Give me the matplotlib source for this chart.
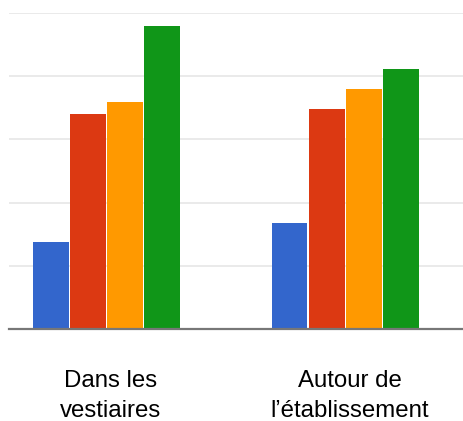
import numpy as np
import matplotlib
matplotlib.use("Agg")
import matplotlib.pyplot as plt
import matplotlib.transforms as mtransforms

plt.rcParams['font.family'] = ['Liberation Sans', 'DejaVu Sans']

# data
categories = ["Dans les\nvestiaires", "Autour de\nl\u2019établissement"]
serie_bleue = [1.37, 1.68]
serie_rouge = [3.40, 3.48]
serie_orange = [3.59, 3.79]
serie_verte = [4.79, 4.11]

series = [serie_bleue, serie_rouge, serie_orange, serie_verte]
couleurs = ["#3366CC", "#DC3912", "#FF9900", "#109618"]

fig = plt.figure(figsize=(4.64, 4.21), dpi=100)
ax = fig.add_axes([9/464, 1 - 329/421, 1 - 9/464, (329 - 13)/421])

x = np.arange(len(categories))
step = 0.156
width = 0.150
for i, (vals, c) in enumerate(zip(series, couleurs)):
    ax.bar(x + (i - 1.5) * step, vals, width, color=c, zorder=3)

ax.set_ylim(0, 5)
ax.set_xlim(-0.408, 1.496)
ax.set_yticks([1, 2, 3, 4, 5])
ax.yaxis.grid(True, color="#e6e6e6", linewidth=1.2, zorder=0)
ax.tick_params(axis="y", left=False, labelleft=False)
ax.tick_params(axis="x", bottom=False, pad=26, labelsize=17.3)
ax.set_xticks(x)
ax.set_xticklabels(categories, linespacing=1.5)
# labels sit a bit right of the group centres in the original
decal = mtransforms.ScaledTranslation(4.5/100, 0, fig.dpi_scale_trans)
for lab in ax.get_xticklabels():
    lab.set_transform(lab.get_transform() + decal)
for s in ["top", "right", "left"]:
    ax.spines[s].set_visible(False)
ax.spines["bottom"].set_color("#777777")
ax.spines["bottom"].set_linewidth(1.6)
ax.spines["bottom"].set_zorder(4)

fig.savefig("out.png", dpi=100)
